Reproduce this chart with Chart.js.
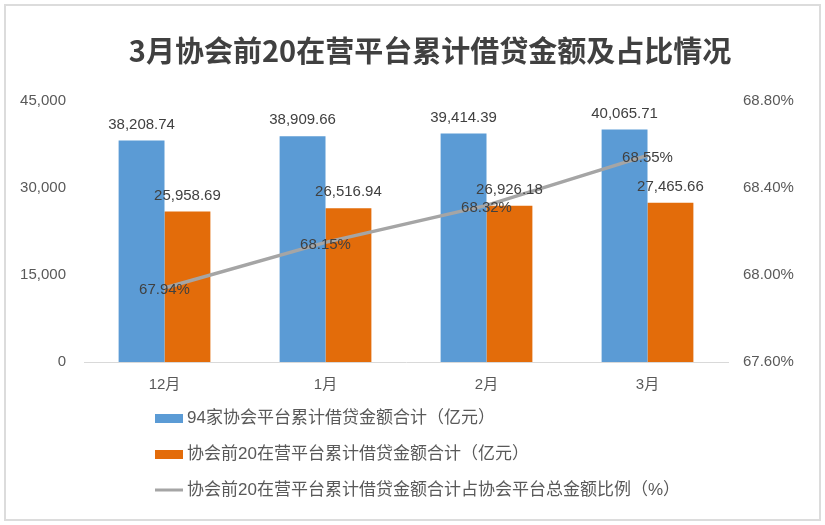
<!DOCTYPE html>
<html lang="zh">
<head>
  <meta charset="UTF-8" />
  <title>3月协会前20在营平台累计借贷金额及占比情况</title>
  <script src="https://cdn.jsdelivr.net/npm/chart.js"></script>
  <style>
    html, body { margin: 0; padding: 0; background: #fff; }
    .wrap { position: relative; width: 825px; height: 525px; }
    .frame { position: absolute; left: 4px; top: 4px; right: 4px; bottom: 4px; border: 2px solid #dcdcdc; pointer-events: none; }
  </style>
</head>
<body>
  <div class="wrap">
    <canvas id="chart" width="825" height="525"></canvas>
    <div class="frame"></div>
  </div>
  <script>
    // 数据
    const chartTitle = '3月协会前20在营平台累计借贷金额及占比情况';
    const months = ['12月', '1月', '2月', '3月'];
    const totalAll = [38208.74, 38909.66, 39414.39, 40065.71];
    const totalTop20 = [25958.69, 26516.94, 26926.18, 27465.66];
    const shareTop20 = [67.94, 68.15, 68.32, 68.55];
    const leftTicks = [0, 15000, 30000, 45000];
    const rightTicks = [67.6, 68.0, 68.4, 68.8];

    const FONT = "'Liberation Sans', 'Noto Sans CJK SC', sans-serif";
    const TEXT = '#404040';
    const TICK = '#595959';

    // 数据标签
    const valueLabels = {
      id: 'valueLabels',
      afterDatasetsDraw(chart) {
        const ctx = chart.ctx;
        ctx.save();
        ctx.font = '15px ' + FONT;
        ctx.fillStyle = TEXT;
        ctx.textAlign = 'center';
        ctx.textBaseline = 'middle';
        chart.data.datasets.forEach((ds, i) => {
          const meta = chart.getDatasetMeta(i);
          meta.data.forEach((el, j) => {
            const v = ds.data[j];
            if (ds.type === 'line') {
              ctx.fillText(v.toFixed(2) + '%', el.x, el.y + 2);
            } else {
              const s = v.toLocaleString('en-US', { minimumFractionDigits: 2, maximumFractionDigits: 2 });
              ctx.fillText(s, el.x, el.y - 16);
            }
          });
        });
        ctx.restore();
      }
    };

    // 标题 + 竖排图例
    const titleAndLegend = {
      id: 'titleAndLegend',
      afterDraw(chart) {
        const ctx = chart.ctx;
        ctx.save();
        ctx.font = "bold 29px 'Noto Sans CJK SC', sans-serif";
        ctx.fillStyle = TEXT;
        ctx.textAlign = 'center';
        ctx.textBaseline = 'middle';
        ctx.fillText(chartTitle, 430, 51);

        const x0 = 155;
        let y = chart.height - 107;
        ctx.font = '17px ' + FONT;
        ctx.textAlign = 'left';
        chart.data.datasets.forEach(ds => {
          if (ds.type === 'line') {
            ctx.strokeStyle = ds.borderColor;
            ctx.lineWidth = 3;
            ctx.beginPath();
            ctx.moveTo(x0, y);
            ctx.lineTo(x0 + 28, y);
            ctx.stroke();
          } else {
            ctx.fillStyle = ds.backgroundColor;
            ctx.fillRect(x0, y - 4, 28, 9);
          }
          ctx.fillStyle = TICK;
          ctx.fillText(ds.label, x0 + 32, y);
          y += 36;
        });
        ctx.restore();
      }
    };

    new Chart(document.getElementById('chart'), {
      type: 'bar',
      data: {
        labels: months,
        datasets: [
          {
            label: '94家协会平台累计借贷金额合计（亿元）',
            data: totalAll,
            backgroundColor: '#5B9BD5',
            yAxisID: 'y',
            order: 1
          },
          {
            label: '协会前20在营平台累计借贷金额合计（亿元）',
            data: totalTop20,
            backgroundColor: '#E36C0A',
            yAxisID: 'y',
            order: 1
          },
          {
            type: 'line',
            label: '协会前20在营平台累计借贷金额合计占协会平台总金额比例（%）',
            data: shareTop20,
            borderColor: '#A5A5A5',
            backgroundColor: '#A5A5A5',
            borderWidth: 3.5,
            pointRadius: 0,
            tension: 0,
            yAxisID: 'y1',
            order: 0
          }
        ]
      },
      options: {
        responsive: false,
        animation: false,
        events: [],
        layout: { padding: { left: 0, right: 0, top: 101, bottom: 127 } },
        datasets: { bar: { categoryPercentage: 0.57, barPercentage: 1.0 } },
        plugins: {
          legend: { display: false },
          tooltip: { enabled: false },
          title: { display: false }
        },
        scales: {
          x: {
            grid: { display: false },
            border: { display: true, color: '#d9d9d9', width: 1 },
            ticks: { color: TICK, font: { family: FONT, size: 15 }, padding: 6 },
            afterFit(s) { s.height = 36; }
          },
          y: {
            position: 'left',
            min: leftTicks[0],
            max: leftTicks[leftTicks.length - 1],
            grid: { display: false },
            border: { display: false },
            afterBuildTicks(s) { s.ticks = leftTicks.map(v => ({ value: v })); },
            ticks: {
              color: TICK,
              font: { family: FONT, size: 15 },
              padding: 10,
              callback: v => v.toLocaleString('en-US')
            },
            afterFit(s) { s.width = 84; }
          },
          y1: {
            position: 'right',
            min: rightTicks[0],
            max: rightTicks[rightTicks.length - 1],
            grid: { display: false },
            border: { display: false },
            afterBuildTicks(s) { s.ticks = rightTicks.map(v => ({ value: v })); },
            ticks: {
              color: TICK,
              font: { family: FONT, size: 15 },
              padding: 7,
              callback: v => v.toFixed(2) + '%'
            },
            afterFit(s) { s.width = 97; }
          }
        }
      },
      plugins: [valueLabels, titleAndLegend]
    });
  </script>
</body>
</html>
